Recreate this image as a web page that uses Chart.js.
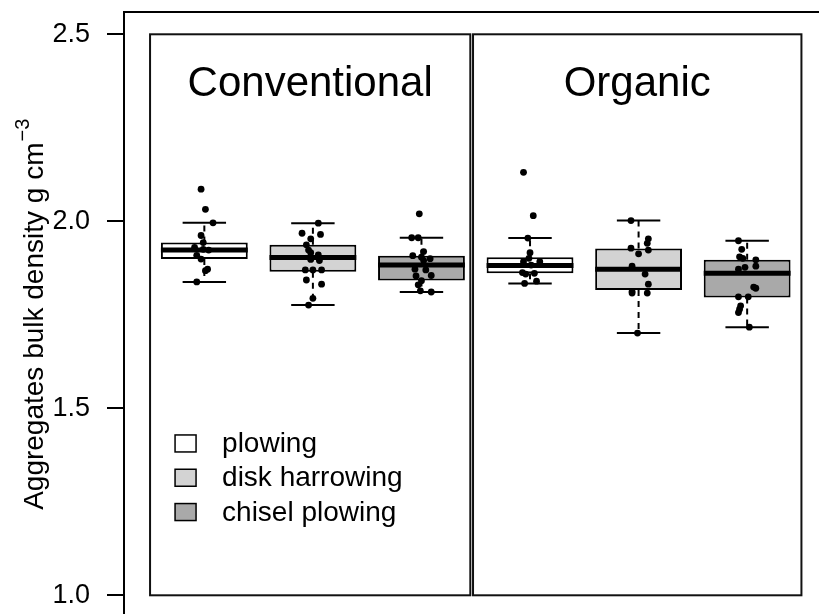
<!DOCTYPE html>
<html><head><meta charset="utf-8">
<script src="https://cdn.jsdelivr.net/npm/chart.js@4.4.1/dist/chart.umd.min.js"></script>
<style>html,body{margin:0;padding:0;background:#fff;overflow:hidden}#wrap{width:819px;height:614px;position:relative}</style>
</head><body><div id="wrap"><canvas id="c"></canvas></div>
<script>
// ---------------- data ----------------
const systems = ['Conventional', 'Organic'];
const treatments = ['plowing', 'disk harrowing', 'chisel plowing'];
const yTickValues = [1.0, 1.5, 2.0, 2.5];
const yTitle = 'Aggregates bulk density g cm';
const yTitleSup = '\u22123';

// boxes in order: Conv plowing, Conv disk, Conv chisel, Org plowing, Org disk, Org chisel
const lowerWhisker  = [1.838, 1.776, 1.811, 1.834, 1.701, 1.717];
const lowerQuartile = [1.899, 1.865, 1.842, 1.861, 1.816, 1.796];
const medians       = [1.923, 1.903, 1.883, 1.882, 1.872, 1.861];
const upperQuartile = [1.943, 1.937, 1.908, 1.904, 1.927, 1.897];
const upperWhisker  = [1.996, 1.995, 1.956, 1.955, 2.002, 1.948];

// individual observations (values) and their horizontal jitter
const pointValues = [
  [2.086, 2.032, 1.996, 1.962, 1.943, 1.930, 1.925, 1.923, 1.909, 1.899, 1.872, 1.868, 1.838],
  [1.995, 1.968, 1.965, 1.953, 1.937, 1.923, 1.916, 1.910, 1.898, 1.895, 1.870, 1.870, 1.870, 1.843, 1.832, 1.794, 1.776],
  [2.020, 1.956, 1.956, 1.919, 1.908, 1.904, 1.900, 1.895, 1.872, 1.870, 1.854, 1.855, 1.841, 1.830, 1.814, 1.811],
  [2.131, 2.015, 1.955, 1.916, 1.901, 1.892, 1.892, 1.883, 1.863, 1.859, 1.861, 1.834, 1.840],
  [2.002, 1.953, 1.941, 1.928, 1.923, 1.913, 1.880, 1.859, 1.832, 1.812, 1.808, 1.808, 1.701],
  [1.948, 1.925, 1.905, 1.901, 1.897, 1.880, 1.877, 1.872, 1.824, 1.821, 1.798, 1.798, 1.774, 1.765, 1.756, 1.717]
];
const pointJitter = [
  [-0.03, 0.01, 0.08, -0.03, -0.01, -0.09, -0.01, 0.04, -0.07, -0.03, 0.03, 0.01, -0.07],
  [0.05, -0.10, 0.07, -0.02, -0.06, -0.04, -0.02, 0.05, -0.02, 0.06, -0.07, 0.00, 0.08, -0.06, 0.08, 0.00, -0.04],
  [-0.02, -0.09, -0.03, 0.02, -0.08, 0.00, 0.08, 0.02, -0.06, 0.04, -0.05, 0.09, 0.00, -0.03, -0.01, 0.09],
  [-0.06, 0.03, -0.02, 0.00, -0.01, -0.06, 0.09, 0.01, -0.07, -0.04, 0.04, -0.05, 0.06],
  [-0.07, 0.09, 0.08, -0.07, 0.09, 0.00, -0.06, 0.06, 0.09, -0.06, -0.06, 0.08, -0.01],
  [-0.08, -0.05, -0.07, -0.04, 0.08, 0.08, -0.02, -0.08, 0.06, 0.08, -0.08, 0.01, -0.06, -0.07, -0.08, 0.02]
];

// ---------------- styling / layout ----------------
const FONT = '"Liberation Sans", Arial, Helvetica, sans-serif';
const treatmentColors = ['#ffffff', '#d3d3d3', '#a9a9a9'];
const panelBounds = [[0.5, 3.45], [3.475, 6.5]];
const panelY = [1.0, 2.5];
const AREA_TOP = 12;
const boxX = lowerQuartile.map((_, i) => i + 1);
const unitPx = (chart) => chart.scales.x.getPixelForValue(2) - chart.scales.x.getPixelForValue(1);

Chart.defaults.font.family = FONT;
Chart.defaults.color = '#000';

const datasets = [];
treatments.forEach((t, ti) => {
  datasets.push({
    type: 'bar', label: t,
    data: systems.map((s, si) => { const i = si * 3 + ti; return { x: boxX[i], y: [lowerQuartile[i], upperQuartile[i]] }; }),
    backgroundColor: treatmentColors[ti], borderColor: '#000', borderWidth: 2, borderSkipped: false,
    grouped: false, categoryPercentage: 1, barPercentage: 0.8, order: 5
  });
});
boxX.forEach((x, i) => {
  [[upperQuartile[i], upperWhisker[i]], [lowerQuartile[i], lowerWhisker[i]]].forEach(([a, b]) => {
    datasets.push({
      type: 'line', data: [{ x, y: a }, { x, y: b }],
      borderColor: '#000', borderWidth: 2, borderDash: [6, 5], pointRadius: 0, fill: false, order: 4
    });
  });
});
datasets.push({
  type: 'scatter', label: 'whisker caps',
  data: boxX.flatMap((x, i) => [{ x, y: lowerWhisker[i] }, { x, y: upperWhisker[i] }]),
  pointStyle: 'line', pointRadius: c => 0.2 * unitPx(c.chart), pointHoverRadius: c => 0.2 * unitPx(c.chart),
  pointBorderColor: '#000', pointBorderWidth: 2, order: 3
});
datasets.push({
  type: 'scatter', label: 'medians',
  data: boxX.map((x, i) => ({ x, y: medians[i] })),
  pointStyle: 'line', pointRadius: c => 0.4 * unitPx(c.chart), pointHoverRadius: c => 0.4 * unitPx(c.chart),
  pointBorderColor: '#000', pointBorderWidth: 5, order: 2
});
datasets.push({
  type: 'scatter', label: 'observations',
  data: pointValues.flatMap((vals, i) => vals.map((v, k) => ({ x: boxX[i] + pointJitter[i][k], y: v }))),
  pointStyle: 'circle', pointRadius: 3.4, pointBackgroundColor: '#000', pointBorderWidth: 0, order: 1
});

// keep the plotting region spanning from the top margin to the canvas bottom
const pinArea = {
  id: 'pinArea',
  afterLayout(chart) {
    const y = chart.scales.y;
    const top = AREA_TOP, bottom = chart.height;
    y.top = top; y.bottom = bottom; y.height = bottom - top;
    y.configure();
    Object.assign(chart.chartArea, { top, bottom, height: bottom - top });
  }
};

const decor = {
  id: 'decor',
  beforeDatasetsDraw(chart) {
    const { ctx, chartArea: a, scales: { x, y } } = chart;
    ctx.save();
    ctx.strokeStyle = '#000';
    ctx.lineWidth = 2;
    ctx.strokeRect(a.left, a.top, a.right - a.left + 40, a.bottom - a.top + 40);
    ctx.strokeStyle = '#111';
    panelBounds.forEach(([x0, x1]) => {
      const px0 = x.getPixelForValue(x0), px1 = x.getPixelForValue(x1);
      const py0 = y.getPixelForValue(panelY[1]), py1 = y.getPixelForValue(panelY[0]);
      ctx.strokeRect(px0, py0, px1 - px0, py1 - py0);
    });
    ctx.restore();
  },
  afterDraw(chart) {
    const { ctx, chartArea: a, scales: { x, y } } = chart;
    ctx.save();
    ctx.fillStyle = '#000';
    // panel titles
    ctx.font = '42px ' + FONT;
    ctx.textAlign = 'center';
    ctx.textBaseline = 'alphabetic';
    systems.forEach((s, si) => {
      const [x0, x1] = panelBounds[si];
      const cx = (x.getPixelForValue(x0) + x.getPixelForValue(x1)) / 2;
      ctx.fillText(s, cx, y.getPixelForValue(2.335));
    });
    // legend
    const lx = x.getPixelForValue(panelBounds[0][0]);
    const ly0 = y.getPixelForValue(1.406);
    ctx.font = '28px ' + FONT;
    ctx.textAlign = 'left';
    ctx.textBaseline = 'middle';
    treatments.forEach((t, ti) => {
      const cy = ly0 + ti * 34.3;
      ctx.fillStyle = treatmentColors[ti];
      ctx.fillRect(lx + 25, cy - 8.5, 21, 17);
      ctx.strokeStyle = '#000';
      ctx.lineWidth = 1.5;
      ctx.strokeRect(lx + 25, cy - 8.5, 21, 17);
      ctx.fillStyle = '#000';
      ctx.fillText(t, lx + 72, cy + 1);
    });
    // y title with superscript
    const mainFont = '28px ' + FONT, supFont = '20px ' + FONT;
    ctx.font = mainFont;
    const wMain = ctx.measureText(yTitle).width;
    ctx.font = supFont;
    const wSup = ctx.measureText(yTitleSup).width;
    const cyT = y.getPixelForValue(1.75);
    ctx.translate(a.left - 81, cyT);
    ctx.rotate(-Math.PI / 2);
    ctx.textAlign = 'left';
    ctx.textBaseline = 'alphabetic';
    const start = -(wMain + wSup) / 2;
    ctx.font = mainFont;
    ctx.fillText(yTitle, start, 0);
    ctx.font = supFont;
    ctx.fillText(yTitleSup, start + wMain + 1, -14);
    ctx.restore();
  }
};

new Chart(document.getElementById('c'), {
  type: 'scatter',
  data: { datasets },
  plugins: [pinArea, decor],
  options: {
    responsive: true, maintainAspectRatio: false, animation: false, events: [],
    devicePixelRatio: 1,
    layout: { padding: { top: AREA_TOP, right: 0, bottom: 0, left: 0 } },
    plugins: { legend: { display: false }, tooltip: { enabled: false } },
    scales: {
      x: { type: 'linear', min: 0.26, max: 6.625, display: false, offset: false,
           grid: { offset: false }, ticks: { stepSize: 1, includeBounds: false } },
      y: { type: 'linear', min: 0.95, max: 2.5596,
           afterFit: s => { s.width = 124; s.paddingTop = 0; s.paddingBottom = 0; },
           afterBuildTicks: s => { s.ticks = yTickValues.map(v => ({ value: v })); },
           ticks: { callback: v => Number(v).toFixed(1), color: '#000', font: { size: 27, family: FONT }, padding: 17 },
           grid: { drawOnChartArea: false, drawTicks: true, tickLength: 17, color: '#000', lineWidth: 2 },
           border: { display: false } }
    }
  }
});
</script></body></html>
